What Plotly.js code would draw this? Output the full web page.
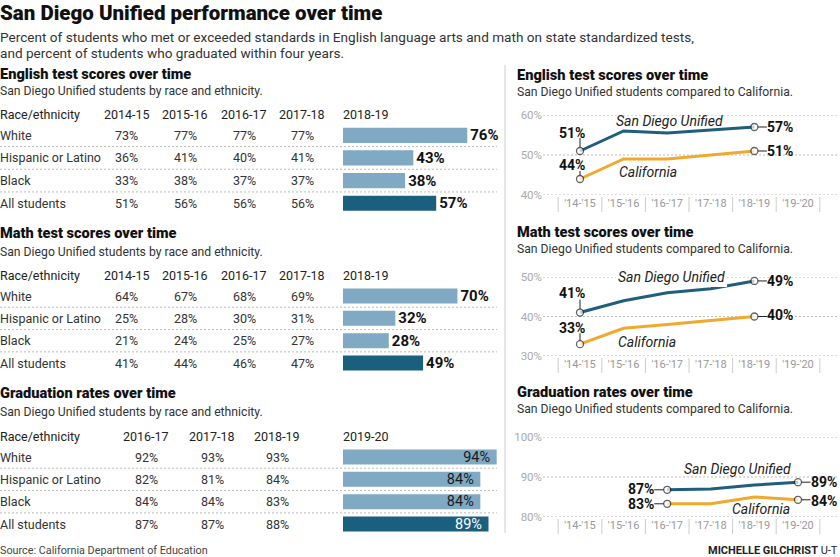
<!DOCTYPE html>
<html><head><meta charset="utf-8">
<script src="https://cdn.plot.ly/plotly-3.0.1.min.js"></script>
<style>html,body{margin:0;padding:0;background:#fff}#chart{width:840px;height:557px}</style>
</head><body><div id="chart"></div>
<script>
// ---------- DATA ----------
const raceRows = ['White', 'Hispanic or Latino', 'Black', 'All students'];
const testYears = ['2014-15', '2015-16', '2016-17', '2017-18', '2018-19'];
const gradYears = ['2016-17', '2017-18', '2018-19', '2019-20'];

const englishWhite = [73, 77, 77, 77, 76];
const englishHispanic = [36, 41, 40, 41, 43];
const englishBlack = [33, 38, 37, 37, 38];
const englishAll = [51, 56, 56, 56, 57];

const mathWhite = [64, 67, 68, 69, 70];
const mathHispanic = [25, 28, 30, 31, 32];
const mathBlack = [21, 24, 25, 27, 28];
const mathAll = [41, 44, 46, 47, 49];

const gradWhite = [92, 93, 93, 94];
const gradHispanic = [82, 81, 84, 84];
const gradBlack = [84, 84, 83, 84];
const gradAll = [87, 87, 88, 89];

const schoolYears = ["'14-'15", "'15-'16", "'16-'17", "'17-'18", "'18-'19", "'19-'20"];
const englishSD = [51, 56, 55.5, 56.2, 57];
const englishCA = [44, 49, 49, 50, 51];
const mathSD = [41, 44, 46, 47, 49];
const mathCA = [33, 37, 38, 39, 40];
const gradSD = [86.8, 87, 88, 88.7];
const gradCA = [83.3, 83.3, 85, 84.3];
const englishTicks = [40, 50, 60];
const mathTicks = [30, 40, 50];
const gradTicks = [80, 90, 100];

// ---------- STYLE / LAYOUT HELPERS ----------
const W = 840, H = 557;
const F = "Roboto, 'Liberation Sans', Arial, sans-serif";
const px = x => x / W;
const py = y => 1 - y / H;
const LIGHT = '#80a9c3', DARK = '#1b5f7f', SDC = '#1f5e7c', CAC = '#f0a92c';
const DOT = '2px,2px';

const traces = [];
const annotations = [];
const shapes = [];
const layout = {
  width: W, height: H, margin: {l: 0, r: 0, t: 0, b: 0},
  paper_bgcolor: '#fff', plot_bgcolor: 'rgba(0,0,0,0)',
  showlegend: false, font: {family: F, color: '#333'},
  annotations, shapes
};

function txt(o) {
  return Object.assign({showarrow: false, xref: 'paper', yref: 'paper', xanchor: 'left', yanchor: 'middle',
    borderpad: 0, borderwidth: 0}, o);
}
function font(size, color, weight, style) {
  const f = {family: F, size: size, color: color || '#333'};
  if (weight) f.weight = weight;
  if (style) f.style = style;
  return f;
}

// Headline
annotations.push(txt({x: 0, y: py(13), text: 'San Diego Unified performance over time', font: font(20.5, '#111', 900)}));
annotations.push(txt({x: 0, y: py(37.5), text: 'Percent of students who met or exceeded standards in English language arts and math on state standardized tests,', font: font(13.6, '#333')}));
annotations.push(txt({x: 0, y: py(53), text: 'and percent of students who graduated within four years.', font: font(13.6, '#333')}));
annotations.push(txt({x: 0, y: py(550), text: 'Source: California Department of Education', font: font(10.8, '#444')}));
annotations.push(txt({x: px(838), xanchor: 'right', y: py(550), text: '<b>MICHELLE GILCHRIST</b> U-T', font: font(11, '#222')}));

// divider
shapes.push({type: 'line', xref: 'paper', yref: 'paper', x0: px(505), x1: px(505), y0: py(65), y1: py(533), line: {color: '#ccc', width: 1}});

// ---------- TABLES WITH BARS ----------
const tables = [
  {n: '', title: 'English test scores over time', years: testYears, rows: [englishWhite, englishHispanic, englishBlack, englishAll],
   cols: [127, 185, 244, 302], titleY: 74, subY: 91, top: 101.3, bottom: 214.6, inside: false},
  {n: '2', title: 'Math test scores over time', years: testYears, rows: [mathWhite, mathHispanic, mathBlack, mathAll],
   cols: [127, 185, 244, 302], titleY: 233, subY: 252, top: 262.5, bottom: 374.2, inside: false},
  {n: '3', title: 'Graduation rates over time', years: gradYears, rows: [gradWhite, gradHispanic, gradBlack, gradAll],
   cols: [146, 212, 277], titleY: 393, subY: 412, top: 423.5, bottom: 535.2, inside: true}
];

tables.forEach(t => {
  const ya = 'y' + t.n, xa = 'x' + t.n;
  layout['yaxis' + t.n] = {type: 'category', categoryorder: 'array', categoryarray: raceRows, range: [3.5, -1.5],
    domain: [py(t.bottom), py(t.top)], visible: false, fixedrange: true, anchor: xa};
  layout['xaxis' + t.n] = {range: [0, 100], domain: [px(343), px(343 + 163.5)], visible: false, fixedrange: true, anchor: ya};

  annotations.push(txt({x: 0, y: py(t.titleY), text: t.title, font: font(14.6, '#111', 900)}));
  annotations.push(txt({x: 0, y: py(t.subY), text: 'San Diego Unified students by race and ethnicity.', font: font(12.2, '#333')}));

  // header row
  annotations.push(txt({x: 0, yref: ya, y: -0.9, text: 'Race/ethnicity', font: font(12.5, '#222')}));
  t.years.forEach((yr, j) => {
    if (j < t.years.length - 1) {
      annotations.push(txt({x: px(t.cols[j]), xanchor: 'center', yref: ya, y: -0.9, text: yr, font: font(12.5, '#222')}));
    } else {
      annotations.push(txt({x: px(343), xanchor: 'left', yref: ya, y: -0.9, text: yr, font: font(12.5, '#222')}));
    }
  });
  // body rows
  raceRows.forEach((r, i) => {
    annotations.push(txt({x: 0, yref: ya, y: i, text: r, font: font(12.5, '#333')}));
    t.rows[i].slice(0, -1).forEach((v, j) => {
      annotations.push(txt({x: px(t.cols[j]), xanchor: 'center', yref: ya, y: i, text: v + '%', font: font(12.5, '#333')}));
    });
  });
  // dotted row separators
  [0.5, 1.5, 2.5].forEach(b => shapes.push({type: 'line', xref: 'paper', yref: ya, x0: 0, x1: px(497), y0: b, y1: b,
    line: {color: '#bbb', width: 1, dash: DOT}}));

  const last = t.rows.map(r => r[r.length - 1]);
  const bar = {
    type: 'bar', orientation: 'h', x: last, y: raceRows, xaxis: xa, yaxis: ya, width: 0.67,
    marker: {color: raceRows.map((r, i) => i === 3 ? DARK : LIGHT)}, hoverinfo: 'skip',
    cliponaxis: false, constraintext: 'none'
  };
  if (t.inside) {
    bar.textposition = 'inside';
    bar.insidetextanchor = 'end';
    bar.texttemplate = '%{x}%&nbsp;';
    bar.insidetextfont = {family: F, size: 14.5, color: raceRows.map((r, i) => i === 3 ? '#fff' : '#1a1a1a')};
  } else {
    bar.textposition = 'outside';
    bar.texttemplate = '<b>%{x}%</b>';
    bar.outsidetextfont = {family: F, size: 15, color: '#111'};
  }
  traces.push(bar);
});

// ---------- LINE CHARTS ----------
const lineCharts = [
  {n: '4', sd: englishSD, ca: englishCA, start: 0, ticks: englishTicks, top: 115, bottom: 195, titleY: 75, subY: 92,
   title: 'English test scores over time',
   sdName: {x: 2.06, y: 58.5}, caName: {x: 1.56, y: 45.75}, nameBg: false,
   first: 'up', sdFirst: {dy: 18, l1: 13}, caFirst: {dy: 14, l1: 8}, sdLastDy: 0, caLastDy: 0},
  {n: '5', sd: mathSD, ca: mathCA, start: 0, ticks: mathTicks, top: 277, bottom: 356, titleY: 232, subY: 249,
   title: 'Math test scores over time',
   sdName: {x: 2.09, y: 50}, caName: {x: 1.54, y: 33.5}, nameBg: true,
   first: 'up', sdFirst: {dy: 19.5, l1: 13}, caFirst: {dy: 16, l1: 11}, sdLastDy: 0, caLastDy: 2},
  {n: '6', sd: gradSD, ca: gradCA, start: 2, ticks: gradTicks, top: 437, bottom: 517, titleY: 392, subY: 409,
   title: 'Graduation rates over time',
   sdName: {x: 3.62, y: 92}, caName: {x: 4.15, y: 82}, nameBg: false,
   first: 'left', sdFirst: {dy: 0.5, l1: 13}, caFirst: {dy: -0.5, l1: 13}, sdLastDy: 0, caLastDy: -1}
];

const xr = [(543 - 580) / 43.6, (840 - 580) / 43.6];

lineCharts.forEach(c => {
  const xa = 'x' + c.n, ya = 'y' + c.n;
  const rng = [c.ticks[0], c.ticks[c.ticks.length - 1]];
  layout['xaxis' + c.n] = {type: 'category', categoryorder: 'array', categoryarray: schoolYears, range: xr,
    domain: [px(543), 1], anchor: ya, showgrid: false, zeroline: false, showline: false, ticks: '',
    tickfont: font(11, '#999'), fixedrange: true};
  layout['yaxis' + c.n] = {range: rng, domain: [py(c.bottom), py(c.top)], anchor: xa,
    tickmode: 'array', tickvals: c.ticks, ticktext: c.ticks.map(v => v + '%'),
    showgrid: false, zeroline: false, showline: false, ticks: '',
    tickfont: font(11.5, '#aaa'), fixedrange: true};

  // dotted gridlines
  c.ticks.forEach(v => shapes.push({type: 'line', layer: 'below', xref: 'paper', yref: ya, x0: px(543), x1: px(839), y0: v, y1: v,
    line: {color: '#bbb', width: 1, dash: DOT}}));

  annotations.push(txt({x: px(517), y: py(c.titleY), text: c.title, font: font(14.6, '#111', 900)}));
  annotations.push(txt({x: px(517), y: py(c.subY), text: 'San Diego Unified students compared to California.', font: font(12.2, '#333')}));

  // category separators
  for (let k = 0; k <= schoolYears.length; k++) {
    shapes.push({type: 'line', xref: xa, yref: 'paper', x0: k - 0.5, x1: k - 0.5, y0: py(c.bottom + 2), y1: py(c.bottom + 17),
      line: {color: '#ccc', width: 1}});
  }

  [[c.ca, CAC], [c.sd, SDC]].forEach(([vals, col]) => {
    const xs = schoolYears.slice(c.start, c.start + vals.length);
    const isEnd = vals.map((v, i) => i === 0 || i === vals.length - 1);
    traces.push({type: 'scatter', mode: 'lines+markers', x: xs, y: vals, xaxis: xa, yaxis: ya,
      line: {color: col, width: 3}, hoverinfo: 'skip', cliponaxis: false,
      marker: {size: isEnd.map(e => e ? 7 : 0), color: '#fff',
        line: {color: '#222', width: isEnd.map(e => e ? 1.3 : 0)}}});
  });

  // endpoint labels and leader lines
  [[c.sd, c.sdFirst, c.sdLastDy], [c.ca, c.caFirst, c.caLastDy]].forEach(([vals, fo, lastDy]) => {
    const x0 = c.start, v0 = vals[0];
    const xl = c.start + vals.length - 1, vl = vals[vals.length - 1];
    const lf = font(14, '#111', 'bold');
    if (c.first === 'up') {
      annotations.push(txt({xref: xa, yref: ya, x: x0, y: v0, xanchor: 'right', xshift: 5, yshift: fo.dy,
        text: Math.round(v0) + '%', font: lf}));
      shapes.push({type: 'line', xref: xa, yref: ya, xsizemode: 'pixel', ysizemode: 'pixel', xanchor: x0, yanchor: v0,
        x0: 0, x1: 0, y0: 3.5, y1: fo.l1, line: {color: '#222', width: 1}});
    } else {
      annotations.push(txt({xref: xa, yref: ya, x: x0, y: v0, xanchor: 'right', xshift: -13, yshift: fo.dy,
        text: Math.round(v0) + '%', font: lf}));
      shapes.push({type: 'line', xref: xa, yref: ya, xsizemode: 'pixel', ysizemode: 'pixel', xanchor: x0, yanchor: v0,
        x0: -3.5, x1: -fo.l1, y0: 0, y1: 0, line: {color: '#222', width: 1}});
    }
    annotations.push(txt({xref: xa, yref: ya, x: xl, y: vl, xanchor: 'left', xshift: 13, yshift: lastDy,
      text: Math.round(vl) + '%', font: lf}));
    shapes.push({type: 'line', xref: xa, yref: ya, xsizemode: 'pixel', ysizemode: 'pixel', xanchor: xl, yanchor: vl,
      x0: 3.5, x1: 12.5, y0: 0, y1: 0, line: {color: '#222', width: 1}});
  });

  // series names
  annotations.push(txt({xref: xa, yref: ya, x: c.sdName.x, y: c.sdName.y, xanchor: 'center', text: 'San Diego Unified',
    font: font(14, '#222', 'normal', 'italic'), bgcolor: c.nameBg ? '#fff' : 'rgba(0,0,0,0)', borderpad: 2}));
  annotations.push(txt({xref: xa, yref: ya, x: c.caName.x, y: c.caName.y, xanchor: 'center', text: 'California',
    font: font(14, '#222', 'normal', 'italic')}));
});

Plotly.newPlot('chart', traces, layout, {staticPlot: true, displayModeBar: false});
</script>
</body></html>
